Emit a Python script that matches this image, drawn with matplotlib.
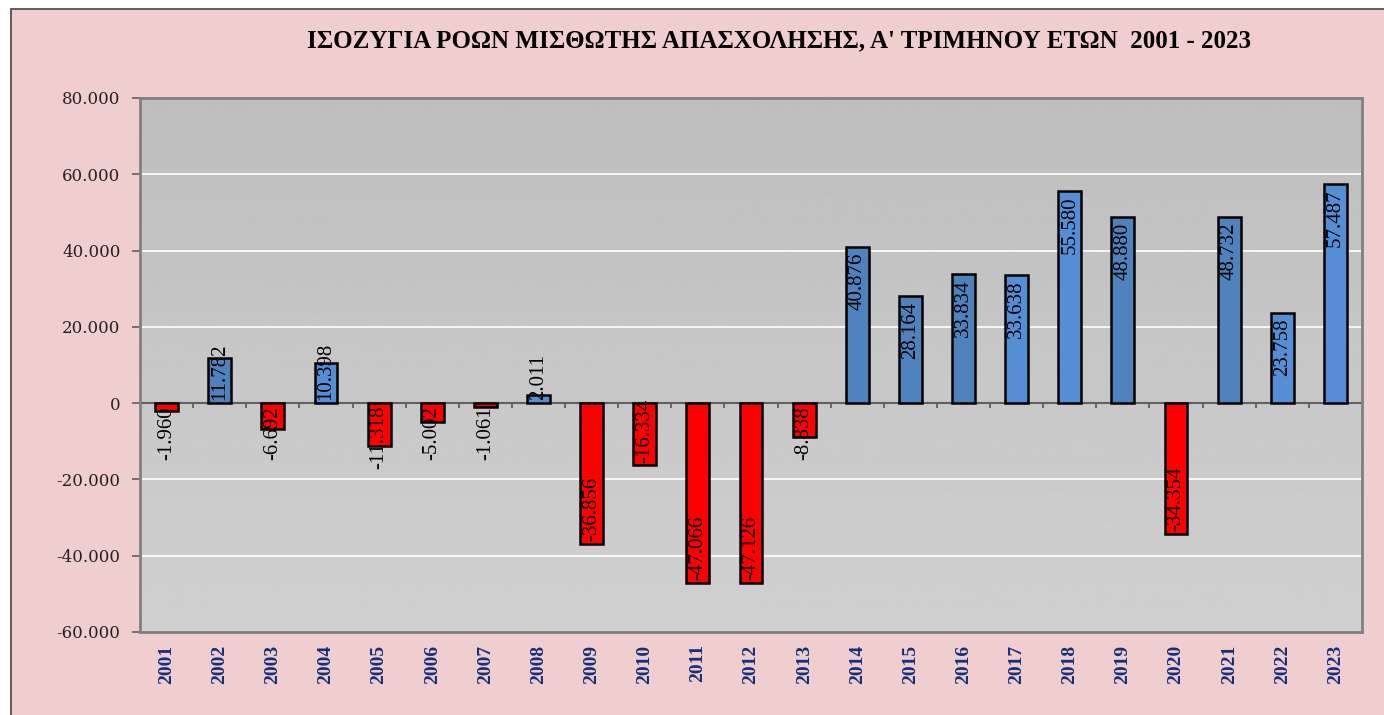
import numpy as np
import matplotlib.pyplot as plt
from matplotlib.patches import Rectangle
from matplotlib.ticker import FuncFormatter

# δεδομένα: ισοζύγιο ροών μισθωτής απασχόλησης, Α' τρίμηνο
years = [str(y) for y in range(2001, 2024)]
balance = [-1960, 11782, -6692, 10398, -11318, -5002, -1061, 2011, -36856, -16334,
           -47066, -47126, -8838, 40876, 28164, 33834, 33638, 55580, 48880, -34354,
           48732, 23758, 57487]
labels = ["-1.960", "11.782", "-6.692", "10.398", "-11.318", "-5.002", "-1.061", "2.011",
          "-36.856", "-16.334", "-47.066", "-47.126", "-8.838", "40.876", "28.164",
          "33.834", "33.638", "55.580", "48.880", "-34.354", "48.732", "23.758", "57.487"]

title = "ΙΣΟΖΥΓΙΑ ΡΟΩΝ ΜΙΣΘΩΤΗΣ ΑΠΑΣΧΟΛΗΣΗΣ, Α' ΤΡΙΜΗΝΟΥ ΕΤΩΝ  2001 - 2023"

# αποχρώσεις των θετικών ράβδων (όπως στο πρωτότυπο, δύο τόνοι μπλε)
blue_tone = ["d", "d", "d", "l", "d", "d", "d", "l", "d", "d", "d", "d", "d",
             "d", "d", "d", "l", "l", "d", "d", "d", "l", "l"]
colors = []
for v, t in zip(balance, blue_tone):
    if v < 0:
        colors.append("#ff0000")
    else:
        colors.append("#4f81bd" if t == "d" else "#558ed5")

fig = plt.figure(figsize=(13.84, 7.15), dpi=100, facecolor="white")
# ροζ φόντο με περίγραμμα πάνω/αριστερά
bg = Rectangle((11 / 1384, -0.02), 1.1, (715 - 9) / 715 + 0.02,
               transform=fig.transFigure, facecolor="#f0cdcf",
               edgecolor="#444444", linewidth=1.2, zorder=-10)
fig.add_artist(bg)

ax = fig.add_axes([140 / 1384, 1 - 632 / 715, (1362 - 140) / 1384, (632 - 98) / 715])
ax.set_zorder(1)
x = np.arange(len(years))
ax.set_xlim(-0.5, len(years) - 0.5)
ax.set_ylim(-60000, 80000)

# διαβάθμιση γκρι στην περιοχή σχεδίασης
grad = np.linspace(0.745, 0.815, 256).reshape(-1, 1)
ax.imshow(grad, cmap="gray", vmin=0, vmax=1, aspect="auto",
          extent=(-0.5, len(years) - 0.5, -60000, 80000), origin="upper", zorder=0)

for g in [-40000, -20000, 20000, 40000, 60000]:
    ax.axhline(g, color="white", linewidth=1.2, zorder=1)

ax.bar(x, balance, width=0.43, color=colors, edgecolor="black", linewidth=1.8, zorder=3)

ax.axhline(0, color="#606060", linewidth=1.5, zorder=2)
ax.vlines(x[1:] - 0.5, -1400, 0, color="#606060", linewidth=1.3, zorder=2)

lab_font = dict(family="Liberation Serif", fontsize=15, rotation=90, ha="center")
for xi, v, s in zip(x, balance, labels):
    if v >= 0:
        if v > 15000:
            ax.annotate(s, (xi, v), xytext=(0, -4), textcoords="offset points",
                        va="top", zorder=4, **lab_font)
        else:
            ax.annotate(s, (xi, 0), xytext=(0, 2), textcoords="offset points",
                        va="bottom", zorder=4, **lab_font)
    else:
        if v < -15000:
            ax.annotate(s, (xi, v), xytext=(0, 2), textcoords="offset points",
                        va="bottom", zorder=4, **lab_font)
        else:
            ax.annotate(s, (xi, 0), xytext=(0, -2), textcoords="offset points",
                        va="top", zorder=4, **lab_font)

ax.set_xticks(x)
ax.set_xticklabels(years, rotation=90, family="Liberation Serif", fontweight="bold",
                   fontsize=14, color="#14307a")
ax.tick_params(axis="x", length=0, pad=9)

ax.set_yticks(np.arange(-60000, 80001, 20000))
ax.yaxis.set_major_formatter(FuncFormatter(lambda v, p: f"{v:,.0f}".replace(",", ".")))
ax.tick_params(axis="y", length=6, width=1.2, color="#606060", pad=8,
               labelsize=12, labelcolor="#222222")
for t in ax.get_yticklabels():
    t.set_family("DejaVu Serif")

for sp in ax.spines.values():
    sp.set_color("#808080")
    sp.set_linewidth(2)

fig.text(779 / 1384, 1 - 41 / 715, title, ha="center", va="center",
         family="Liberation Serif", fontweight="bold", fontsize=18, color="black")

fig.savefig("out.png", dpi=100)
